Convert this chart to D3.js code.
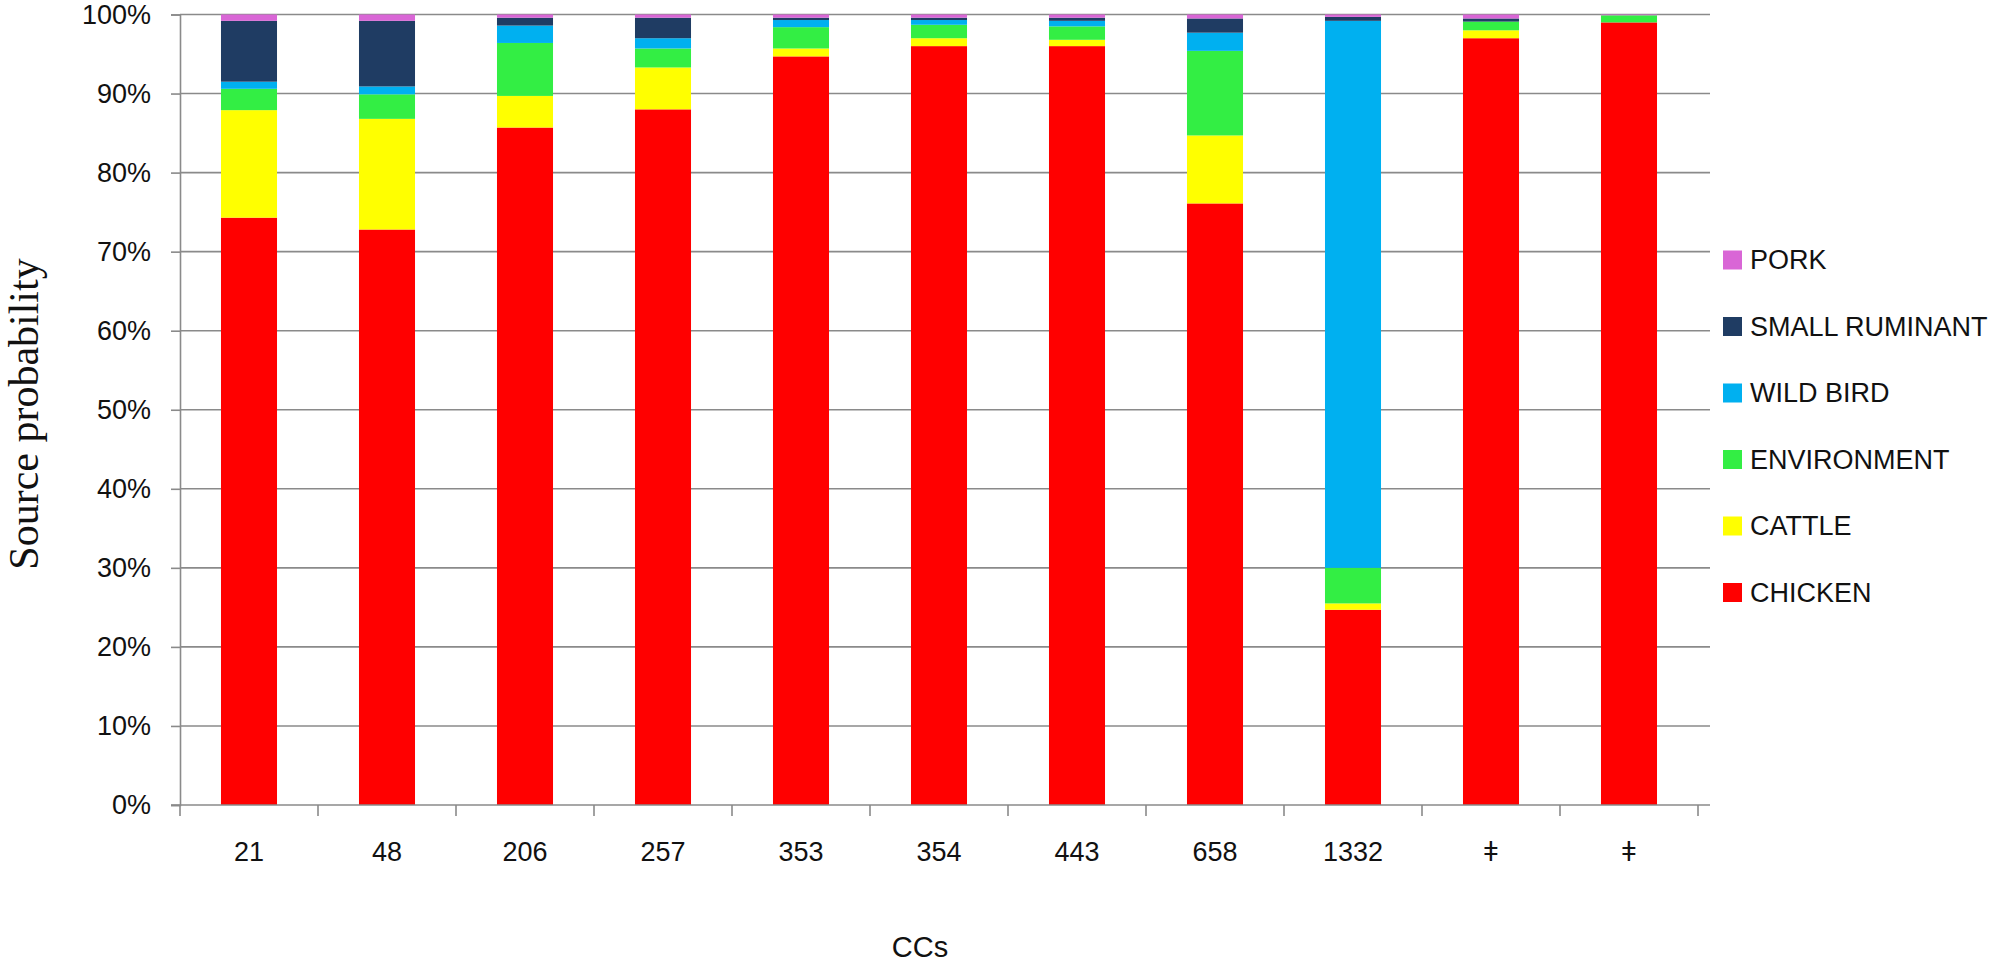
<!DOCTYPE html>
<html><head><meta charset="utf-8">
<script src="https://cdn.jsdelivr.net/npm/d3@7"></script>
<style>body{margin:0;background:#fff;} svg{display:block;}</style>
</head><body>
<svg id="chart" width="2000" height="966"></svg>
<script>
const categories = ["21","48","206","257","353","354","443","658","1332","ǂ","ǂ "];
const seriesNames = ["CHICKEN","CATTLE","ENVIRONMENT","WILD BIRD","SMALL RUMINANT","PORK"];
const chicken       = [74.3, 72.8, 85.7, 88.0, 94.7, 96.0, 96.0, 76.1, 24.7, 97.0, 99.0];
const cattle        = [13.6, 14.0,  4.0,  5.3,  1.0,  1.0,  0.8,  8.6,  0.8,  1.0,  0.0];
const environment   = [ 2.7,  3.1,  6.7,  2.4,  2.7,  1.7,  1.7, 10.7,  4.5,  1.1,  0.9];
const wildBird      = [ 0.9,  1.0,  2.2,  1.3,  0.9,  0.6,  0.7,  2.3, 69.2,  0.0,  0.0];
const smallRuminant = [ 7.7,  8.3,  1.0,  2.6,  0.3,  0.3,  0.4,  1.8,  0.5,  0.4,  0.0];
const pork          = [ 0.8,  0.8,  0.4,  0.4,  0.4,  0.4,  0.4,  0.5,  0.3,  0.5,  0.1];
const colors = ["#ff0000","#ffff00","#33ee44","#00b0f0","#1f3c63","#d966d6"];
const yTicks = [0,10,20,30,40,50,60,70,80,90,100];

(function(){
const seriesValues = [chicken, cattle, environment, wildBird, smallRuminant, pork];
const rows = categories.map((c,i)=>{
  const r = {cat:c};
  seriesNames.forEach((s,j)=>{ r[s] = seriesValues[j][i]; });
  return r;
});
const stack = d3.stack().keys(seriesNames)(rows);

const svg = d3.select("#chart");
const mLeft = 180, mRight = 1698, mTop = 14.5, mBottom = 805;
const x = d3.scaleBand().domain(categories).range([mLeft,mRight]).paddingInner(0.594).paddingOuter(0.297);
const y = d3.scaleLinear().domain([0,100]).range([mBottom, mTop]);
const font = "'Liberation Sans', Arial, sans-serif";

// gridlines
svg.append("g").selectAll("line").data(yTicks.filter(t=>t>0)).join("line")
  .attr("x1", mLeft).attr("x2", mRight + 12)
  .attr("y1", d=>y(d)).attr("y2", d=>y(d))
  .attr("stroke","#8a8a8a").attr("stroke-width",1.6);

// bars
const color = d3.scaleOrdinal().domain(seriesNames).range(colors);
svg.append("g").selectAll("g").data(stack).join("g")
  .attr("fill", d=>color(d.key))
  .selectAll("rect").data(d=>d).join("rect")
  .attr("x", d=>x(d.data.cat))
  .attr("width", x.bandwidth())
  .attr("y", d=>y(Math.min(100,d[1])))
  .attr("height", d=>Math.max(0, y(d[0]) - y(Math.min(100,d[1]))));

// y axis
const yAxis = d3.axisLeft(y).tickValues(yTicks).tickFormat(d=>d+"%").tickSize(9).tickPadding(20);
const gy = svg.append("g").attr("transform",`translate(${mLeft},0)`).call(yAxis);
gy.select(".domain").attr("stroke","#8a8a8a").attr("stroke-width",1.6);
gy.selectAll(".tick line").attr("stroke","#8a8a8a").attr("stroke-width",1.6);
gy.selectAll(".tick text").attr("font-family",font).attr("font-size",27).attr("fill","#111");

// x axis
const xAxis = d3.axisBottom(x).tickSize(0).tickPadding(37);
const gx = svg.append("g").attr("transform",`translate(0,${mBottom})`).call(xAxis);
gx.select(".domain").remove();
gx.append("line").attr("x1",mLeft-9).attr("x2",mRight + 12).attr("y1",0).attr("y2",0)
  .attr("stroke","#8a8a8a").attr("stroke-width",1.6);
const boundaries = categories.map(c=>x(c) - x.step()*x.paddingInner()/2);
boundaries.push(mRight);
gx.append("g").selectAll("line").data(boundaries).join("line")
  .attr("x1",d=>d).attr("x2",d=>d).attr("y1",0).attr("y2",11)
  .attr("stroke","#8a8a8a").attr("stroke-width",1.6);
gx.selectAll(".tick text").attr("font-family",font).attr("font-size",27).attr("fill","#111");

// axis titles
svg.append("text").attr("x", 920).attr("y", 957).attr("text-anchor","middle")
  .attr("font-family",font).attr("font-size",29).attr("fill","#111").text("CCs");
svg.append("text").attr("transform","translate(38,414) rotate(-90)").attr("text-anchor","middle")
  .attr("font-family","'Liberation Serif','Times New Roman',serif").attr("font-size",42).attr("fill","#111")
  .text("Source probability");

// legend
const legendOrder = seriesNames.slice().reverse();
const lg = svg.append("g").selectAll("g").data(legendOrder).join("g")
  .attr("transform",(d,i)=>`translate(1723,${260 + i*66.5})`);
lg.append("rect").attr("x",0).attr("y",-9.5).attr("width",19).attr("height",19).attr("fill",d=>color(d));
lg.append("text").attr("x",27).attr("y",0).attr("dy","0.35em")
  .attr("font-family",font).attr("font-size",27).attr("fill","#111").text(d=>d);
})();
</script>
</body></html>
